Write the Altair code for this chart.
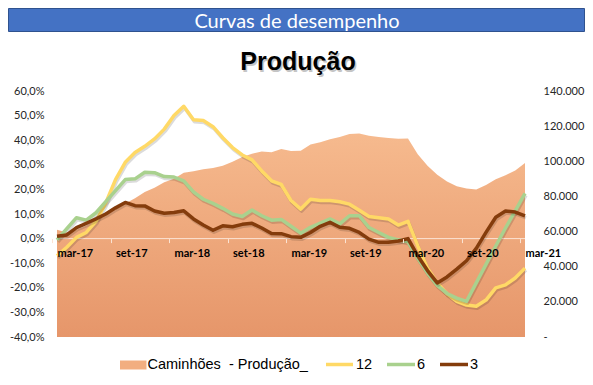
import altair as alt
import pandas as pd

# ---------------- data ----------------
meses = ["mar-17", "abr-17", "mai-17", "jun-17", "jul-17", "ago-17", "set-17", "out-17", "nov-17", "dez-17",
         "jan-18", "fev-18", "mar-18", "abr-18", "mai-18", "jun-18", "jul-18", "ago-18", "set-18", "out-18",
         "nov-18", "dez-18", "jan-19", "fev-19", "mar-19", "abr-19", "mai-19", "jun-19", "jul-19", "ago-19",
         "set-19", "out-19", "nov-19", "dez-19", "jan-20", "fev-20", "mar-20", "abr-20", "mai-20", "jun-20",
         "jul-20", "ago-20", "set-20", "out-20", "nov-20", "dez-20", "jan-21", "fev-21", "mar-21"]

rotulos_x = ["mar-17", "set-17", "mar-18", "set-18", "mar-19", "set-19", "mar-20", "set-20", "mar-21"]

caminhoes = [61000, 59500, 61000, 63500, 66500, 70000, 72500, 76000, 79000, 82500,
             85000, 88000, 90000, 93500, 94300, 95400, 96200, 97500, 99800, 102500,
             104300, 105500, 105200, 107000, 105800, 106000, 109500, 110800, 112500, 113800,
             115500, 115800, 114500, 113800, 113300, 112800, 113000, 104000, 97500, 92300,
             88500, 85800, 84500, 84000, 86500, 89800, 92000, 94800, 99000]

serie_12 = [-7.0, -3.5, 0.5, 2.5, 7.0, 14.5, 24.0, 31.0, 35.0, 37.5,
            40.5, 44.5, 50.0, 53.8, 48.3, 48.0, 45.5, 41.0, 37.0, 34.0,
            32.0, 27.5, 23.5, 22.0, 15.5, 12.0, 16.0, 15.5, 15.5, 15.0,
            14.0, 11.5, 9.0, 8.5, 8.0, 5.5, 7.0, -3.0, -12.0, -18.0,
            -22.5, -25.5, -27.0, -27.5, -25.0, -20.0, -18.8, -16.0, -12.0]

serie_6 = [-0.5, 4.0, 8.5, 7.5, 10.5, 15.0, 19.5, 24.0, 24.3, 27.0,
           26.8, 25.2, 25.0, 23.5, 19.0, 16.0, 14.3, 12.3, 10.0, 9.0,
           11.6, 9.3, 7.5, 7.8, 5.0, 2.2, 4.6, 6.3, 8.0, 6.0,
           9.3, 9.3, 4.5, 2.5, 0.5, -0.5, -1.3, -8.0, -14.0, -19.0,
           -22.3, -24.2, -25.5, -18.0, -10.5, -3.0, 4.3, 11.3, 18.4]

serie_3 = [1.0, 1.5, 4.5, 6.2, 8.0, 10.0, 12.5, 14.7, 13.4, 13.3,
           11.2, 10.3, 10.6, 11.3, 8.0, 5.5, 3.4, 5.2, 4.8, 5.8,
           6.2, 4.3, 2.1, 2.0, 0.8, 0.5, 2.5, 5.0, 6.6, 4.6,
           4.2, 2.5, -0.2, -1.5, -1.5, -1.0, 0.0, -7.0, -13.0, -18.0,
           -15.6, -12.4, -9.0, -4.0, 2.5, 8.7, 11.2, 10.8, 9.2]

valores_esq = [-0.4, -0.3, -0.2, -0.1, 0.0, 0.1, 0.2, 0.3, 0.4, 0.5, 0.6]
valores_dir = [0, 20000, 40000, 60000, 80000, 100000, 120000, 140000]

df = pd.DataFrame({
    "mes": meses,
    "caminhoes": caminhoes,
    "s12": [v / 100 for v in serie_12],
    "s6": [v / 100 for v in serie_6],
    "s3": [v / 100 for v in serie_3],
})

# ---------------- layout ----------------
W, H = 468, 246
PAD = {"left": 49, "top": 83, "right": 60, "bottom": 40}
zero_from_bottom = H * 0.4 / 1.0
LINHA_ZERO = "#FBE3D3"

x_enc = alt.X(
    "mes:N",
    sort=None,
    scale=alt.Scale(type="point", domain=meses, padding=0),
    axis=alt.Axis(
        values=rotulos_x, title=None, orient="bottom", offset=-zero_from_bottom, zindex=1,
        labelAngle=0, labelAlign="left", labelBaseline="top", labelOverlap=False,
        labelFont="Lato", labelFontSize=11, labelFontWeight="bold", labelColor="#000000",
        labelPadding=5, tickSize=4, tickColor=LINHA_ZERO, tickOffset=-4.875, labelOffset=4.875,
        domain=False, grid=False,
    ),
)

y_esq_scale = alt.Scale(domain=[-0.4, 0.6], nice=False, zero=False)
y_esq_axis = alt.Axis(
    orient="left", values=valores_esq, title=None, grid=False, domain=False, ticks=False,
    tickSize=0, labelPadding=13, labelFont="Lato", labelFontSize=11, labelColor="#262626",
    labelExpr="replace(replace(format(datum.value, '.1%'), '.', ','), '\u2212', '-')",
)

y_dir = alt.Y(
    "caminhoes:Q",
    scale=alt.Scale(domain=[0, 140000], nice=False),
    axis=alt.Axis(
        orient="right", values=valores_dir, title=None, grid=False, domain=False, ticks=False,
        tickSize=0, labelPadding=18, labelFont="Lato", labelFontSize=11, labelColor="#262626",
        labelExpr="datum.value == 0 ? '-' : replace(format(datum.value, ','), ',', '.')",
    ),
)

area = alt.Chart(df).mark_area(
    interpolate="linear",
    color=alt.Gradient(
        gradient="linear",
        stops=[alt.GradientStop(color="#F6BA8E", offset=0),
               alt.GradientStop(color="#E6966A", offset=1)],
        x1=0, x2=0, y1=0, y2=1,
    ),
).encode(x=x_enc, y=y_dir)

one = pd.DataFrame({"k": [0]})

linha_zero = alt.Chart(one).mark_rule(color=LINHA_ZERO, strokeWidth=1).encode(
    y=alt.YDatum(0, type="quantitative", scale=y_esq_scale, axis=y_esq_axis)
)


def linha(col, cor):
    return alt.Chart(df).mark_line(color=cor, strokeWidth=3.5, strokeJoin="round").encode(
        x=x_enc, y=alt.Y(f"{col}:Q", scale=y_esq_scale, axis=y_esq_axis)
    )


def sombra(col):
    return alt.Chart(df).mark_line(color="#000000", opacity=0.14, strokeWidth=3.5, strokeJoin="round",
                                   xOffset=1, yOffset=2).encode(
        x=x_enc, y=alt.Y(f"{col}:Q", scale=y_esq_scale, axis=y_esq_axis)
    )


linhas = alt.layer(
    linha_zero,
    sombra("s12"), linha("s12", "#FFD966"),
    sombra("s6"), linha("s6", "#A9D18E"),
    sombra("s3"), linha("s3", "#843C0C"),
)


def texto(txt, x, y, **kw):
    return alt.Chart(one).mark_text(text=txt, **kw).encode(x=alt.value(x), y=alt.value(y))


banner = alt.Chart(one).mark_rect(fill="#4472C4", stroke="#2F528F", strokeWidth=1).encode(
    x=alt.value(-48.5), x2=alt.value(527.5), y=alt.value(-82.5), y2=alt.value(-59.5)
)
banner_txt = texto("Curvas de desempenho", 240, -69.5, font="Lato", fontSize=20,
                   color="#FFFFFF", align="center", baseline="middle")
titulo_sombra = texto("Produção", 242.5, -27.5, font="Liberation Sans", fontSize=25, fontWeight="bold",
                      color="#808080", opacity=0.45, align="center", baseline="middle")
titulo = texto("Produção", 241, -29, font="Liberation Sans", fontSize=25, fontWeight="bold",
               color="#000000", align="center", baseline="middle")

leg_rect = alt.Chart(one).mark_rect(fill="#F2AE80").encode(
    x=alt.value(63), x2=alt.value(89.5), y=alt.value(269.5), y2=alt.value(278.5)
)


def leg_linha(x0, x1, cor):
    return alt.Chart(one).mark_rule(color=cor, strokeWidth=3.5).encode(
        x=alt.value(x0), x2=alt.value(x1), y=alt.value(273.5)
    )


leg_kw = dict(font="Liberation Sans", fontSize=14.5, color="#000000", align="left", baseline="middle")
legenda = [
    leg_rect,
    texto("Caminhões\u00a0\u00a0- Produção_", 90.5, 273.5, **leg_kw),
    leg_linha(269, 296, "#FFD966"),
    texto("12", 299, 273.5, **leg_kw),
    leg_linha(330, 358, "#A9D18E"),
    texto("6", 360, 273.5, **leg_kw),
    leg_linha(383, 411, "#843C0C"),
    texto("3", 413, 273.5, **leg_kw),
]

chart = alt.layer(area, linhas, banner, banner_txt, titulo_sombra, titulo, *legenda).resolve_scale(
    y="independent"
).properties(
    width=W, height=H,
    autosize=alt.AutoSizeParams(type="none"),
    padding=PAD,
    background="#FFFFFF",
).configure_view(stroke=None)

chart.save("out.html", embed_options={"renderer": "svg", "actions": False})
